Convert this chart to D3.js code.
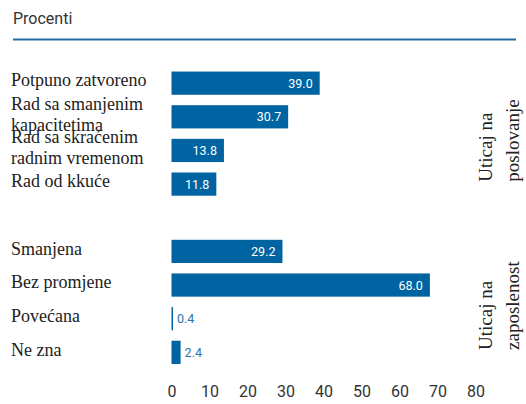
<!DOCTYPE html>
<html>
<head>
<meta charset="utf-8">
<script src="https://cdn.jsdelivr.net/npm/d3@7"></script>
<style>
  body { margin: 0; background: #fff; }
  svg { display: block; }
</style>
</head>
<body>
<svg id="chart"></svg>
<script>
// kategorije i vrijednosti (procenti)
var categories = ['Potpuno zatvoreno', 'Rad sa smanjenim kapacitetima', 'Rad sa skraćenim radnim vremenom', 'Rad od kkuće',
                  '', 'Smanjena', 'Bez promjene', 'Povećana', 'Ne zna'];
var labelLines = [['Potpuno zatvoreno'], ['Rad sa smanjenim', 'kapacitetima'], ['Rad sa skraćenim', 'radnim vremenom'], ['Rad od kkuće'],
                  [], ['Smanjena'], ['Bez promjene'], ['Povećana'], ['Ne zna']];
var values = [39.0, 30.7, 13.8, 11.8, null, 29.2, 68.0, 0.4, 2.4];
var xTicks = [0, 10, 20, 30, 40, 50, 60, 70, 80];
var groups = [
    {lines: ['Uticaj na', 'poslovanje'], last: 3},
    {lines: ['Uticaj na', 'zaposlenost'], last: 8}
];

var width = 526, height = 404;
var barColor = '#0064a2';
var serif = '"Liberation Serif", "DejaVu Serif", serif';
var narrow = '"Liberation Sans Narrow", "Roboto", sans-serif';
var svg = d3.select('#chart').attr('width', width).attr('height', height);

// naslov
svg.append('text')
    .attr('x', 13).attr('y', 24)
    .style('font-family', 'Roboto, sans-serif')
    .style('font-size', '16px').attr('fill', '#333')
    .text('Procenti');
svg.append('line')
    .attr('x1', 13).attr('x2', 516).attr('y1', 39.5).attr('y2', 39.5)
    .attr('stroke', '#1f6ea6').attr('stroke-width', 2);

// skale
var x = d3.scaleLinear().domain([0, 80]).range([171.5, 475.5]);
var y = d3.scaleBand().domain(d3.range(categories.length)).range([66.5, 369]).paddingInner(0.31).paddingOuter(0.15);

var rows = svg.append('g').selectAll('g')
    .data(values.map(function(v, i) { return {v: v, i: i}; }).filter(function(d) { return d.v !== null; }))
    .enter().append('g');

rows.append('rect')
    .attr('x', x(0))
    .attr('y', function(d) { return y(d.i); })
    .attr('width', function(d) { return x(d.v) - x(0); })
    .attr('height', y.bandwidth())
    .attr('fill', barColor);

// vrijednosti
rows.append('text')
    .attr('x', function(d) { return d.v < 5 ? x(d.v) + 4 : x(d.v) - 7; })
    .attr('y', function(d) { return y(d.i) + y.bandwidth() / 2; })
    .attr('dy', '0.36em')
    .attr('text-anchor', function(d) { return d.v < 5 ? 'start' : 'end'; })
    .style('font-family', narrow)
    .style('font-size', '12.5px')
    .attr('fill', function(d) { return d.v < 5 ? '#2a72ad' : '#fff'; })
    .text(function(d) { return d3.format('.1f')(d.v); });

// nazivi kategorija
var labels = svg.append('g').selectAll('text')
    .data(labelLines.map(function(l, i) { return {lines: l, i: i}; }).filter(function(d) { return d.lines.length; }))
    .enter().append('text')
    .style('font-family', serif)
    .style('font-size', '18px').attr('fill', '#222');
labels.selectAll('tspan')
    .data(function(d) {
        var c = y(d.i) + y.bandwidth() / 2 - 3;
        var n = d.lines.length;
        return d.lines.map(function(t, k) { return {t: t, y: c + (k - (n - 1) / 2) * 21}; });
    })
    .enter().append('tspan')
    .attr('x', 11)
    .attr('y', function(d) { return d.y; })
    .attr('dy', '0.35em')
    .text(function(d) { return d.t; });

// oznake grupa (rotirane)
groups.forEach(function(g) {
    var bottom = y(g.last) + y.bandwidth() - 14;
    var t = svg.append('text')
        .attr('transform', 'translate(492,' + bottom + ') rotate(-90)')
        .style('font-family', serif)
        .style('font-size', '19px').attr('fill', '#222');
    g.lines.forEach(function(l, k) {
        t.append('tspan').attr('x', 0).attr('y', k * 27).text(l);
    });
});

// x osa
var xAxis = d3.axisBottom(x).tickValues(xTicks).tickSize(0).tickPadding(0);
var ax = svg.append('g').attr('transform', 'translate(0,386)').call(xAxis);
ax.select('.domain').remove();
ax.selectAll('text')
    .style('font-family', narrow)
    .style('font-size', '16px').attr('fill', '#333');
</script>
</body>
</html>
